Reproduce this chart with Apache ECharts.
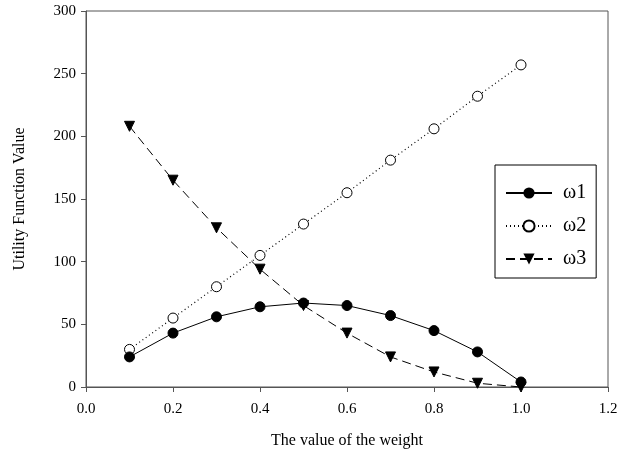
<!DOCTYPE html>
<html><head><meta charset="utf-8">
<script src="https://cdn.jsdelivr.net/npm/echarts@6/dist/echarts.min.js"></script>
<style>html,body{margin:0;padding:0;background:#fff}#c{width:639px;height:460px}</style>
</head><body><div id="c"></div>
<script>
const weights = [0.1,0.2,0.3,0.4,0.5,0.6,0.7,0.8,0.9,1.0];
const w1 = [24,43,56,64,67,65,57,45,28,4];
const w2 = [30,55,80,105,130,155,181,206,232,257];
const w3 = [208,165,127,94,65,43,24,12,3,0];
const seriesNames = ['ω1','ω2','ω3'];
const xTicks = ['0.0','0.2','0.4','0.6','0.8','1.0','1.2'];

const font = 'Liberation Serif';
const pair = arr => weights.map((x,i)=>[x,arr[i]]);
const chart = echarts.init(document.getElementById('c'), null, {renderer:'canvas'});
chart.setOption({
  animation:false,
  backgroundColor:'#fff',
  textStyle:{fontFamily:font},
  grid:{left:86,right:31,top:11,bottom:73,show:true,borderColor:'#555',borderWidth:1,backgroundColor:'transparent'},
  xAxis:{type:'value',min:0,max:1.2,interval:0.2,
    name:'The value of the weight',nameLocation:'middle',nameGap:46,
    nameTextStyle:{fontFamily:font,fontSize:16,color:'#000'},
    axisLine:{lineStyle:{color:'#555'}},
    axisTick:{show:true,inside:false,length:5,lineStyle:{color:'#555'}},
    axisLabel:{fontFamily:font,fontSize:15,color:'#000',margin:15,formatter:(v)=>xTicks[Math.round(v/0.2)]},
    splitLine:{show:false}},
  yAxis:{type:'value',min:0,max:300,interval:50,
    name:'Utility Function Value',nameLocation:'middle',nameGap:58,
    nameTextStyle:{fontFamily:font,fontSize:16,color:'#000'},
    axisLine:{show:true,lineStyle:{color:'#555'}},
    axisTick:{show:true,inside:false,length:5,lineStyle:{color:'#555'}},
    axisLabel:{fontFamily:font,fontSize:15,color:'#000',margin:10},
    splitLine:{show:false}},
  legend:{show:true,orient:'vertical',left:495,top:165,width:103,
    backgroundColor:'#fff',borderColor:'#000',borderWidth:1,
    padding:[18,10,9,10],itemGap:13,itemWidth:46,itemHeight:14,
    textStyle:{fontFamily:font,fontSize:20,color:'#000',padding:[0,0,0,6]},
    data:seriesNames},
  series:[
    {name:seriesNames[0],type:'line',data:pair(w1),symbol:'circle',symbolSize:10,
      lineStyle:{color:'#000',width:1,type:'solid'},itemStyle:{color:'#000',borderColor:'#000'},z:3},
    {name:seriesNames[1],type:'line',data:pair(w2),symbol:'circle',symbolSize:10,
      lineStyle:{color:'#000',width:1.2,type:[1,3]},itemStyle:{color:'#fff',borderColor:'#000',borderWidth:1},z:2},
    {name:seriesNames[2],type:'line',data:pair(w3),symbol:'triangle',symbolRotate:180,symbolSize:10,
      lineStyle:{color:'#000',width:1,type:[9,5]},itemStyle:{color:'#000',borderColor:'#000'},z:2}
  ]
});
</script></body></html>
